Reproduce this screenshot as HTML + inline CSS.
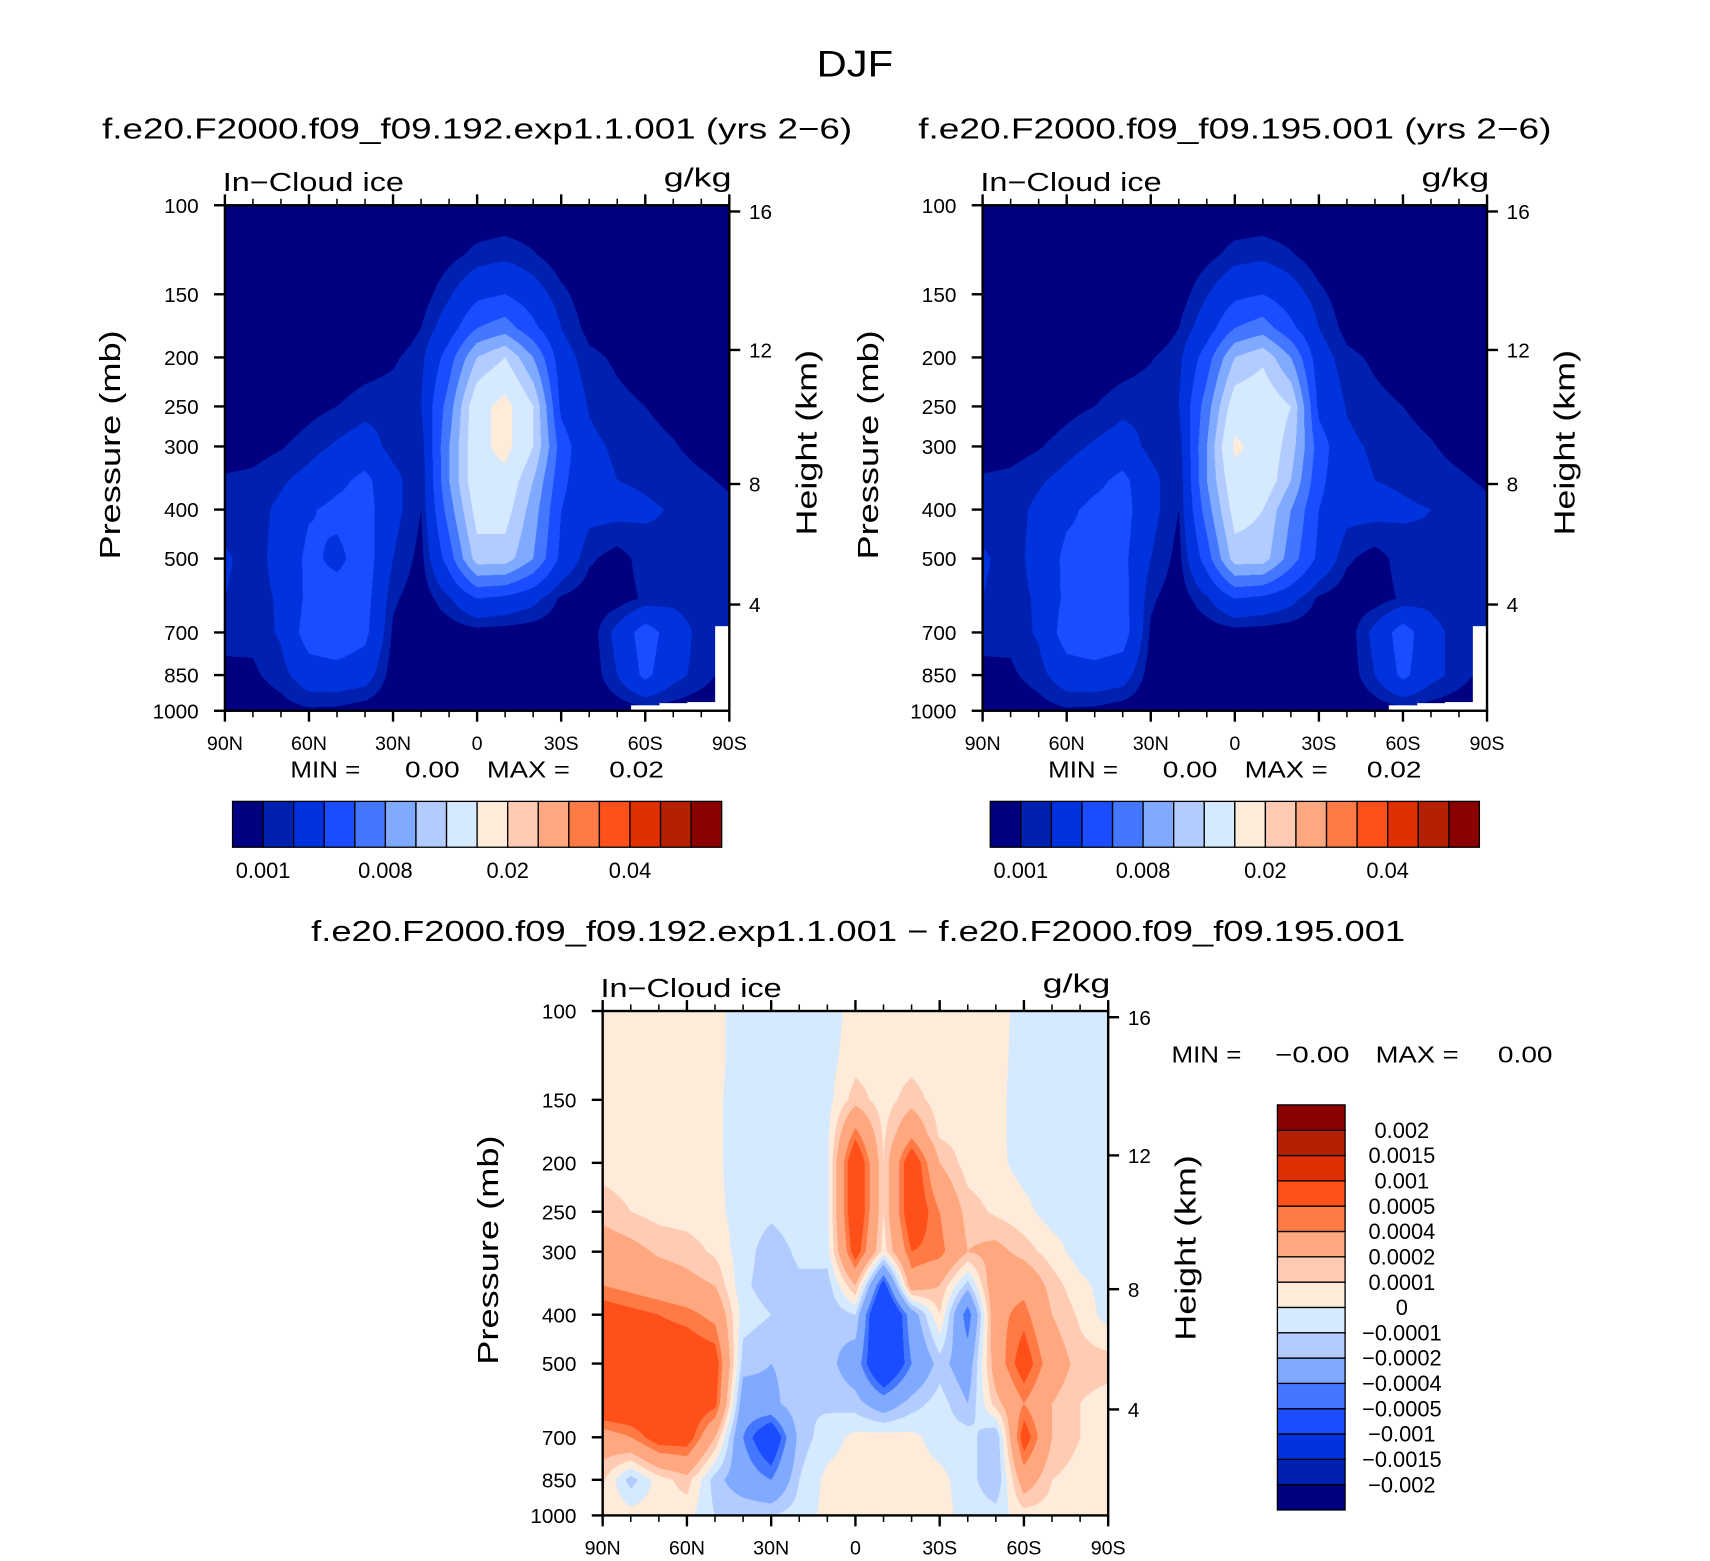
<!DOCTYPE html>
<html><head><meta charset="utf-8"><style>
html,body{margin:0;padding:0;background:#fff;width:1710px;height:1561px;overflow:hidden}
#root{position:absolute;left:0;top:0;width:1570px;height:1430px;transform:scale(1.0918);transform-origin:0 0}
canvas{position:absolute}
svg{position:absolute;left:0;top:0}
text{font-family:"Liberation Sans",sans-serif;fill:#000}
</style></head><body>
<div id="root">
<canvas id="c1" style="left:206px;top:188px;width:462px;height:463px" width="924" height="926"></canvas>
<canvas id="c2" style="left:900px;top:188px;width:462px;height:463px" width="924" height="926"></canvas>
<canvas id="c3" style="left:552px;top:926px;width:463px;height:462px" width="926" height="924"></canvas>
<svg id="s" width="1570" height="1430" viewBox="0 0 1570 1430"></svg>
</div>
<script>
const lats=[90,80,70,60,50,40,30,20,10,0,-10,-20,-30,-40,-50,-60,-70,-80,-90];
const pressures=[100,125,150,175,200,250,300,350,400,500,600,700,850,1000];
const surfacePressure=[1000,1000,1000,1000,1000,1000,1000,1000,1000,1000,1000,1000,1000,1000,1000,975,965,960,680];
// in 1e-3 g/kg
const ice192=[
[0,0,0,0,0,0,0,0,0,0,0,0,0,0,0,0,0,0,0],
[0,0,0,0,0,0,0,0,0.6,1.3,1.6,1.1,0.3,0,0,0,0,0,0],
[0,0,0,0,0,0,0,0.4,1.8,3.5,4,2.8,1.3,0.3,0,0,0,0,0],
[0,0,0,0,0,0,0,1.0,3,6,7,4.5,2,0.6,0.2,0,0,0,0],
[0,0,0,0,0.1,0.4,0.8,1.6,5,10,12,8,2.8,1.3,0.8,0.4,0.1,0,0],
[0,0,0.1,0.6,1.0,1.5,1.6,2.0,7,14,16,12,3.5,1.9,1.3,1.0,0.6,0.3,0.1],
[0.2,0.5,0.9,1.5,2.2,2.8,1.5,1.3,8,14,16,12,5,2.3,1.8,1.4,1.1,0.6,0.3],
[1.2,1.3,1.8,2.5,3.5,4.5,2.5,1.0,8,14,14,10,4.5,2.5,2.0,1.8,1.5,1.2,0.8],
[1.3,1.5,2.3,3.8,4.5,4.8,2.5,1.0,7,13,13,9,4,2.5,2.5,2.2,1.9,1.6,1.3],
[2.2,1.5,2.5,4.5,3.5,5,2.0,0.6,5,11,11,8,3.5,1.2,0.5,1.5,1.8,1.5,1.2],
[2.0,1.5,2.2,4.5,5,4.8,1.2,0.3,1.8,4,3.5,2.5,0.8,0.3,0.4,1.2,1.6,1.3,1.1],
[1.5,1.3,2.2,5,5.5,4.5,0.8,0.2,0.3,0.5,0.4,0.3,0.2,0.3,2.5,5,3,1.5,1.0],
[0.6,0.8,1.5,3.0,3.2,2.8,0.4,0.1,0.1,0.2,0.2,0.1,0.1,0.2,2.0,4.5,2.5,1.5,0.5],
[0.2,0.2,0.5,0.8,0.7,0.3,0.1,0,0,0,0,0,0,0,0.3,0.5,0.4,0.2,0]];
const ice195=[
[0,0,0,0,0,0,0,0,0,0,0,0,0,0,0,0,0,0,0],
[0,0,0,0,0,0,0,0,0.6,1.4,1.6,1.1,0.3,0,0,0,0,0,0],
[0,0,0,0,0,0,0,0.4,1.9,3.5,4,2.8,1.3,0.3,0,0,0,0,0],
[0,0,0,0,0,0,0,1.0,3,6,7,4.5,2,0.6,0.2,0,0,0,0],
[0,0,0,0,0.1,0.4,0.9,1.6,5,10,11.5,8,2.8,1.3,0.8,0.4,0.1,0,0],
[0,0,0.1,0.6,1.0,1.6,1.7,2.0,7,13.5,14,12,3.5,1.9,1.3,1.0,0.6,0.3,0.1],
[0.2,0.5,0.9,1.5,2.2,2.8,1.6,1.3,8,15.5,14,11,5,2.3,1.8,1.4,1.1,0.6,0.3],
[1.2,1.3,1.8,2.5,3.5,4.5,2.5,1.0,8,14,14,10,4.5,2.5,2.0,1.8,1.5,1.2,0.8],
[1.3,1.5,2.3,3.6,4.5,4.8,2.5,1.0,7,13,12,8,4,2.5,2.5,2.2,2.0,1.8,1.3],
[2.2,1.5,2.5,4.5,4.5,4.5,2.0,0.6,5,11,11,7,3.5,1.2,0.5,1.5,1.8,1.5,1.2],
[2.0,1.5,2.2,4.5,5,4.8,1.2,0.3,1.8,4,3.5,2.5,0.8,0.3,0.4,1.2,1.6,1.3,1.1],
[1.5,1.3,2.2,5,5.5,5,0.8,0.2,0.3,0.5,0.4,0.3,0.2,0.3,2.5,5,2.5,1.5,1.0],
[0.6,0.8,1.5,3.0,3.2,2.8,0.4,0.1,0.1,0.2,0.2,0.1,0.1,0.2,2.0,4.5,2.5,1.5,0.5],
[0.2,0.2,0.5,0.8,0.7,0.3,0.1,0,0,0,0,0,0,0,0.3,0.5,0.4,0.2,0]];
// in 1e-4 g/kg
const iceDiff=[
[0.5,0.5,0.5,0.5,0.3,-0.5,-0.5,-0.5,-0.4,0.3,0.5,0.5,0.3,0.5,0.5,-0.5,-0.5,-0.5,-0.5],
[0.5,0.5,0.5,0.5,0.3,-0.5,-0.5,-0.5,-0.4,0.6,0.5,0.6,0.3,0.5,0.4,-0.5,-0.5,-0.5,-0.5],
[0.5,0.5,0.5,0.5,0.2,-0.5,-0.5,-0.5,-0.4,1.5,0.5,1.5,0.5,0.5,0.3,-0.5,-0.5,-0.5,-0.5],
[0.5,0.5,0.5,0.4,0.2,-0.5,-0.5,-0.5,-0.3,4.5,0.8,3.5,0.8,0.5,0.3,-0.5,-0.5,-0.5,-0.5],
[0.6,0.5,0.5,0.4,0.2,-0.5,-0.5,-0.5,-0.3,7,1,6.5,2,0.5,0.3,-0.4,-0.5,-0.5,-0.5],
[1.5,1.0,0.6,0.5,0.3,-0.5,-0.8,-0.5,-0.3,7,1,6.5,4,1.5,0.8,0.3,-0.5,-0.5,-0.5],
[3,2.5,1.8,1.5,0.8,-0.6,-1.5,-0.8,-0.5,6,0.5,5,4.5,2,2.5,1.5,0.5,-0.5,-0.5],
[4,3.5,3,2.5,2,-0.8,-1.5,-1.2,-1.5,2,-6,3,2,-1.5,3.5,3.5,1.5,0.3,-0.5],
[6,5.5,5,4.5,3.5,-0.5,-1.0,-1.5,-1.8,-1,-9,-3,1,-5,3.5,4.5,2,0.8,-0.5],
[7,7,6.5,6.5,6,-1.5,-2,-1.5,-1.5,-3,-8,-4,-1.5,-3,3,6,3,1.5,1.5],
[7,7,6.5,6.5,5.5,-3,-2.5,-1,-1.2,-1.5,-3,-1.5,-0.5,-2,1.5,4,2,1,0.5],
[3,4,6,6,2,-4,-7,-1.5,-0.5,0.3,0.5,0.3,-0.5,-0.5,-2,6,2,1,0.5],
[1.2,-1.5,0.5,1.5,-1.5,-3,-4,-1,0.3,0.5,0.8,0.5,0.3,-0.5,-2,3,1,0.5,0.3],
[0.8,0.5,0.5,0.3,-1,-1,-1,-0.5,0.3,0.5,0.5,0.4,0.3,-0.3,-0.5,0.5,0.5,0.3,0.3]];
const iceLevels=[1,2,4,6,8,10,12,15,20,25,30,35,40,45,50];
const diffLevels=[-20,-15,-10,-5,-4,-2,-1,0,1,2,4,5,10,15,20];
const iceColors=["#000080","#0020B0","#0033DD","#1A4DFF","#4477FF","#80AAFF","#B3CCFF","#D6EAFF","#FFEBD9","#FFCCB3","#FFA880","#FF7A45","#FF5019","#E03000","#B52000","#8B0000"];
const diffColors=iceColors;
const iceTickLabels=["0.001","0.008","0.02","0.04"];
const iceTickIndex=[1,5,9,13];
const diffTickLabels=["−0.002","−0.0015","−0.001","−0.0005","−0.0004","−0.0002","−0.0001","0","0.0001","0.0002","0.0004","0.0005","0.001","0.0015","0.002"];
const pLabels=[100,150,200,250,300,400,500,700,850,1000];
const hLabels=[4,8,12,16];
const latTicks=["90N","60N","30N","0","30S","60S","90S"];

const NS="http://www.w3.org/2000/svg";
const svg=document.getElementById('s');
function el(tag,attrs,parent){const e=document.createElementNS(NS,tag);for(const k in attrs)e.setAttribute(k,attrs[k]);(parent||svg).appendChild(e);return e;}
function txt(s,x,y,size,anchor,extra){const t=el('text',Object.assign({x:x,y:y,'font-size':size,'text-anchor':anchor||'start'},extra||{}));t.textContent=s;return t;}
function hex(c){return [parseInt(c.slice(1,3),16),parseInt(c.slice(3,5),16),parseInt(c.slice(5,7),16)];}

function drawField(id,vals,levels,colors,mask){
  const cv=document.getElementById(id),ctx=cv.getContext('2d');
  const W=cv.width,H=cv.height,img=ctx.createImageData(W,H);
  const rgb=colors.map(hex),lp=pressures.map(p=>Math.log10(p));
  for(let y=0;y<H;y++){
    const l=2+(y+0.5)/H;let i=0;while(i<lp.length-2&&l>lp[i+1])i++;
    const fy=Math.min(1,Math.max(0,(l-lp[i])/(lp[i+1]-lp[i])));const p=Math.pow(10,l);
    for(let x=0;x<W;x++){
      const u=(x+0.5)/W*(lats.length-1);let j=Math.min(lats.length-2,Math.floor(u));const fx=u-j;
      const v=(vals[i][j]*(1-fx)+vals[i][j+1]*fx)*(1-fy)+(vals[i+1][j]*(1-fx)+vals[i+1][j+1]*fx)*fy;
      let k=0;while(k<levels.length&&v>=levels[k])k++;
      let c=rgb[k];
      if(mask){const sp=surfacePressure[Math.round(u)];if(p>sp)c=[255,255,255];}
      const o=(y*W+x)*4;img.data[o]=c[0];img.data[o+1]=c[1];img.data[o+2]=c[2];img.data[o+3]=255;
    }
  }
  ctx.putImageData(img,0,0);
}
drawField('c1',ice192,iceLevels,iceColors,true);
drawField('c2',ice195,iceLevels,iceColors,true);
drawField('c3',iceDiff,diffLevels,diffColors,false);

function heightToP(z){z*=1000;return z<=11000?1013.25*Math.pow(1-2.25577e-5*z,5.2559):226.32*Math.exp(-(z-11000)/6341.6);}
const fit={lengthAdjust:'spacingAndGlyphs'};

function axes(x0,y0,w,h,name){
  const yOf=p=>y0+(Math.log10(p)-2)*h;
  const frame=el('rect',{x:x0,y:y0,width:w,height:h,fill:'none',stroke:'#000','stroke-width':2.2});
  
  
  for(let d=0;d<=18;d++){
    const x=x0+d/18*w,maj=d%3===0,L=maj?10:6;
    el('line',{x1:x,y1:y0+h,x2:x,y2:y0+h+L,stroke:'#000','stroke-width':maj?2.2:1.4});
    el('line',{x1:x,y1:y0,x2:x,y2:y0-L,stroke:'#000','stroke-width':maj?2.2:1.4});
  }
  latTicks.forEach((s,k)=>{
    const t=txt(s,x0+k/6*w,y0+h+36,18,'middle');
    
    
  });
  pLabels.forEach(p=>{
    const y=yOf(p);
    el('line',{x1:x0-10,y1:y,x2:x0,y2:y,stroke:'#000','stroke-width':2.2});
    const t=txt(String(p),x0-24,y+7,19,'end');
    
    
  });
  hLabels.forEach(z=>{
    const y=yOf(heightToP(z));
    el('line',{x1:x0+w,y1:y,x2:x0+w+10,y2:y,stroke:'#000','stroke-width':2.2});
    const t=txt(String(z),x0+w+18,y+7,19,'start');
    
    
  });
  const pt=txt('Pressure  (mb)',0,0,26,'middle',Object.assign({transform:`translate(${x0-96},${y0+h/2-12}) rotate(-90)`,textLength:210},fit));
  
  
  const ht=txt('Height  (km)',0,0,26,'middle',Object.assign({transform:`translate(${x0+w+80},${y0+h/2-14}) rotate(-90)`,textLength:170},fit));
  
  
  const vt=txt('In−Cloud  ice',x0-2,y0-13,24,'start',Object.assign({textLength:166},fit));
  
  
  const ut=txt('g/kg',x0+w+2,y0-17,24,'end',Object.assign({textLength:62},fit));
  
  
}

const dj=txt('DJF',783,70,34,'middle',Object.assign({textLength:70},fit));



[[206,'panel-192','f.e20.F2000.f09_f09.192.exp1.1.001 (yrs 2−6)'],[900,'panel-195','f.e20.F2000.f09_f09.195.001 (yrs 2−6)']].forEach(([x0,name,title])=>{
  const t=txt(title,x0+231,127,26,'middle',Object.assign({textLength:name==='panel-192'?687:580},fit));
  
  
  axes(x0,188,462,463,name);
  const m1=txt('MIN =',x0+60,712,21,'start',Object.assign({textLength:64},fit));
  
  
  const m2=txt('0.00',x0+165,712,21,'start',Object.assign({textLength:50},fit));
  
  
  const m3=txt('MAX =',x0+240,712,21,'start',Object.assign({textLength:76},fit));
  
  
  const m4=txt('0.02',x0+352,712,21,'start',Object.assign({textLength:50},fit));
  
  
  const bw=448/iceColors.length;
  iceColors.forEach((c,k)=>{
    const r=el('rect',{x:x0+7+k*bw,y:734,width:bw,height:42,fill:c,stroke:'#000','stroke-width':1.2});
    
    
  });
  iceTickLabels.forEach((s,k)=>{
    const t=txt(s,x0+7+iceTickIndex[k]*bw,804,20,'middle');
    
    
  });
});

const bt=txt('f.e20.F2000.f09_f09.192.exp1.1.001  −  f.e20.F2000.f09_f09.195.001',786,862,26,'middle',Object.assign({textLength:1002},fit));


axes(552,926,463,462,'panel-difference');
[['MIN =',1073,64],['−0.00',1168,68],['MAX =',1260,76],['0.00',1372,50]].forEach(([s,x,L])=>{
  const t=txt(s,x,973,21,'start',Object.assign({textLength:L},fit));
  
  
});
const bh=371/diffColors.length;
diffColors.forEach((c,k)=>{
  const r=el('rect',{x:1170,y:1383-(k+1)*bh,width:62,height:bh,fill:c,stroke:'#000','stroke-width':1.2});
  
  
});
diffTickLabels.forEach((s,k)=>{
  const t=txt(s,1284,1383-(k+1)*bh+7,20,'middle');
  
  
});
</script>
</body></html>
